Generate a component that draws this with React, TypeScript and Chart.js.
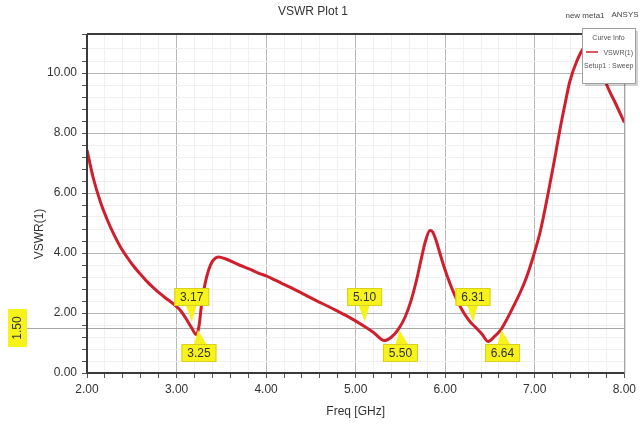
import React, { useEffect, useRef } from "react";
import { Chart, registerables } from "chart.js";

Chart.register(...registerables);

// ---- data ----
const freqGHz = [
  2.0, 2.07, 2.15, 2.22, 2.3, 2.37, 2.45, 2.51, 2.6, 2.66, 2.75, 2.81, 2.9, 2.99,
  3.05, 3.1, 3.17, 3.22, 3.25, 3.28, 3.32, 3.36, 3.4, 3.44, 3.47, 3.55, 3.7,
  3.81, 3.92, 4.0, 4.18, 4.36, 4.55, 4.74, 4.92, 5.1, 5.2, 5.32, 5.4, 5.47,
  5.55, 5.62, 5.68, 5.73, 5.78, 5.83, 5.86, 5.9, 5.93, 5.97, 6.02, 6.08, 6.14,
  6.21, 6.28, 6.34, 6.41, 6.48, 6.55, 6.62, 6.69, 6.76, 6.84, 6.91, 6.98, 7.06,
  7.15, 7.22, 7.28, 7.34, 7.39, 7.47, 7.55, 7.62, 7.7, 7.8, 7.9, 8.0,
];
const vswrValues = [
  7.43, 6.5, 5.7, 5.15, 4.62, 4.22, 3.85, 3.6, 3.28, 3.08, 2.82, 2.66, 2.45, 2.24,
  2.06, 1.84, 1.5, 1.28, 1.55, 2.3, 3.0, 3.45, 3.72, 3.84, 3.87, 3.8, 3.6,
  3.47, 3.32, 3.24, 2.98, 2.72, 2.43, 2.15, 1.87, 1.55, 1.35, 1.08, 1.2, 1.43,
  1.85, 2.43, 3.1, 3.77, 4.4, 4.75, 4.7, 4.4, 4.1, 3.7, 3.25, 2.78, 2.38,
  1.99, 1.7, 1.52, 1.3, 1.05, 1.22, 1.44, 1.8, 2.21, 2.7, 3.21, 3.85, 4.7,
  6.0, 7.1, 8.1, 9.0, 9.7, 10.4, 10.85, 11.0, 10.6, 9.63, 9.0, 8.35,
];
const markerFreqs = [3.17, 3.25, 5.1, 5.5, 6.31, 6.64];
const markerLabels = ["3.17", "3.25", "5.10", "5.50", "6.31", "6.64"];
const markerSides = ["above", "below", "above", "below", "above", "below"];
const refLevel = 1.5;
const refLabel = "1.50";
const xMin = 2, xMax = 8, xStep = 0.2;
const yMin = 0, yMax = 11.3, yStep = 0.4;

const FONT = "'Liberation Sans', Arial, sans-serif";
const YELLOW = "#f7f21a";

const isMult = (v: number, m: number) => Math.abs(v / m - Math.round(v / m)) < 1e-6;

const decorPlugin = {
  id: "decor",
  beforeDatasetsDraw(chart: any) {
    const { ctx, chartArea, scales } = chart;
    const y = scales.y.getPixelForValue(refLevel);
    ctx.save();
    ctx.strokeStyle = "#a8a8a8";
    ctx.lineWidth = 1;
    ctx.beginPath();
    ctx.moveTo(24, Math.round(y) + 0.5);
    ctx.lineTo(chartArea.right, Math.round(y) + 0.5);
    ctx.stroke();
    ctx.restore();
  },
  afterDatasetsDraw(chart: any) {
    const { ctx, scales } = chart;
    const yRef = scales.y.getPixelForValue(refLevel);
    ctx.save();
    markerFreqs.forEach((f, i) => {
      const px = scales.x.getPixelForValue(f);
      const above = markerSides[i] === "above";
      const w = 35, h = 18;
      const bx = px - w / 2;
      const by = above ? yRef - 40 : yRef + 16;
      const tipY = above ? yRef - 6 : yRef + 2;
      ctx.fillStyle = YELLOW;
      ctx.strokeStyle = "#d8cf20";
      ctx.lineWidth = 1;
      ctx.beginPath();
      if (above) {
        ctx.moveTo(px - 6, by + h - 1);
        ctx.lineTo(px + 5, by + h - 1);
        ctx.lineTo(px, tipY);
      } else {
        ctx.moveTo(px - 5, by + 1);
        ctx.lineTo(px + 8, by + 1);
        ctx.lineTo(px - 1, tipY);
      }
      ctx.closePath();
      ctx.fill();
      ctx.fillRect(bx, by, w, h);
      ctx.strokeRect(bx + 0.5, by + 0.5, w - 1, h - 1);
      ctx.fillStyle = "#333";
      ctx.font = `12px ${FONT}`;
      ctx.textAlign = "center";
      ctx.textBaseline = "middle";
      ctx.fillText(markerLabels[i], px, by + h / 2 + 1);
    });
    ctx.restore();
  },
  afterDraw(chart: any) {
    const { ctx, chartArea } = chart;
    const { left, right, top, bottom } = chartArea;
    const yRef = chart.scales.y.getPixelForValue(refLevel);
    ctx.save();
    // borders
    ctx.strokeStyle = "#9a9a9a";
    ctx.lineWidth = 1;
    ctx.beginPath();
    ctx.moveTo(right + 0.5, top);
    ctx.lineTo(right + 0.5, bottom);
    ctx.stroke();
    ctx.strokeStyle = "#3a3a3a";
    ctx.lineWidth = 2;
    ctx.beginPath();
    ctx.moveTo(left, top);
    ctx.lineTo(right, top);
    ctx.moveTo(left, top);
    ctx.lineTo(left, bottom);
    ctx.lineTo(right, bottom);
    ctx.stroke();

    // legend box
    const lx = 582, ly = 28, lw = 53, lh = 55;
    ctx.fillStyle = "rgba(0,0,0,0.18)";
    ctx.fillRect(lx + 3, ly + 3, lw, lh);
    ctx.fillStyle = "#ffffff";
    ctx.fillRect(lx, ly, lw, lh);
    ctx.strokeStyle = "#a0a0a0";
    ctx.lineWidth = 1;
    ctx.strokeRect(lx + 0.5, ly + 0.5, lw, lh);
    ctx.fillStyle = "#555";
    ctx.font = `7px ${FONT}`;
    ctx.textAlign = "center";
    ctx.textBaseline = "middle";
    ctx.fillText("Curve Info", lx + lw / 2, ly + 10);
    ctx.strokeStyle = "#d02030";
    ctx.lineWidth = 1.5;
    ctx.beginPath();
    ctx.moveTo(lx + 4, ly + 24);
    ctx.lineTo(lx + 16, ly + 24);
    ctx.stroke();
    ctx.textAlign = "right";
    ctx.fillText("VSWR(1)", lx + lw - 2, ly + 25);
    ctx.textAlign = "left";
    ctx.fillText("Setup1 : Sweep", lx + 2, ly + 38);

    // header texts
    ctx.fillStyle = "#333";
    ctx.textBaseline = "middle";
    ctx.textAlign = "center";
    ctx.font = `12px ${FONT}`;
    ctx.fillText("VSWR Plot 1", 313, 12);
    ctx.font = `8px ${FONT}`;
    ctx.fillStyle = "#444";
    ctx.fillText("new meta1", 585, 16);
    ctx.fillText("ANSYS", 625, 15);

    // axis titles
    ctx.fillStyle = "#333";
    ctx.font = `12px ${FONT}`;
    ctx.fillText("Freq [GHz]", (left + right) / 2, 412);
    ctx.save();
    ctx.translate(40, 234);
    ctx.rotate(-Math.PI / 2);
    ctx.fillText("VSWR(1)", 0, 0);
    ctx.restore();

    // ref label
    ctx.fillStyle = YELLOW;
    ctx.fillRect(8, yRef - 19, 19, 38);
    ctx.save();
    ctx.translate(18, yRef);
    ctx.rotate(-Math.PI / 2);
    ctx.fillStyle = "#333";
    ctx.font = `12px ${FONT}`;
    ctx.fillText(refLabel, 0, 0);
    ctx.restore();
    ctx.restore();
  },
};

export default function App() {
  const ref = useRef<HTMLCanvasElement | null>(null);
  useEffect(() => {
    if (!ref.current) return;
    const chart = new Chart(ref.current, {
      type: "line",
      data: {
        datasets: [
          {
            label: "VSWR(1)",
            data: freqGHz.map((f, i) => ({ x: f, y: vswrValues[i] })),
            borderColor: "#cf1f2d",
            borderWidth: 3,
            pointRadius: 0,
            cubicInterpolationMode: "monotone",
            fill: false,
          },
        ],
      },
      options: {
        animation: false,
        responsive: false,
        devicePixelRatio: 1,
        layout: { padding: { left: 40, top: 34, right: 12, bottom: 0 } },
        plugins: { legend: { display: false }, tooltip: { enabled: false }, title: { display: false } },
        scales: {
          x: {
            type: "linear",
            min: xMin,
            max: xMax,
            afterFit: (s: any) => { s.height = 51; },
            border: { display: false },
            grid: {
              color: (c: any) => (isMult(c.tick.value, 1) ? "#b8b8b8" : "#f0f0f0"),
              tickColor: "#555",
              tickLength: 5,
              lineWidth: 1,
            },
            ticks: {
              stepSize: xStep,
              autoSkip: false,
              maxRotation: 0,
              padding: 4,
              color: "#333",
              font: { family: FONT, size: 12 },
              callback: (v: any) => (isMult(Number(v), 1) ? Number(v).toFixed(2) : ""),
            },
          },
          y: {
            type: "linear",
            min: yMin,
            max: yMax,
            afterFit: (s: any) => { s.width = 47; },
            border: { display: false },
            grid: {
              color: (c: any) => (isMult(c.tick.value, 2) ? "#b8b8b8" : "#f0f0f0"),
              tickColor: "#555",
              tickLength: 5,
              lineWidth: 1,
            },
            ticks: {
              stepSize: yStep,
              autoSkip: false,
              padding: 5,
              color: "#333",
              font: { family: FONT, size: 12 },
              callback: (v: any) => (isMult(Number(v), 2) ? Number(v).toFixed(2) : ""),
            },
          },
        },
      },
      plugins: [decorPlugin],
    } as any);
    return () => chart.destroy();
  }, []);
  return (
    <div style={{ position: "absolute", left: 0, top: 0, width: 640, height: 424, background: "#fff" }}>
      <canvas ref={ref} width={640} height={424} style={{ display: "block" }} />
    </div>
  );
}
